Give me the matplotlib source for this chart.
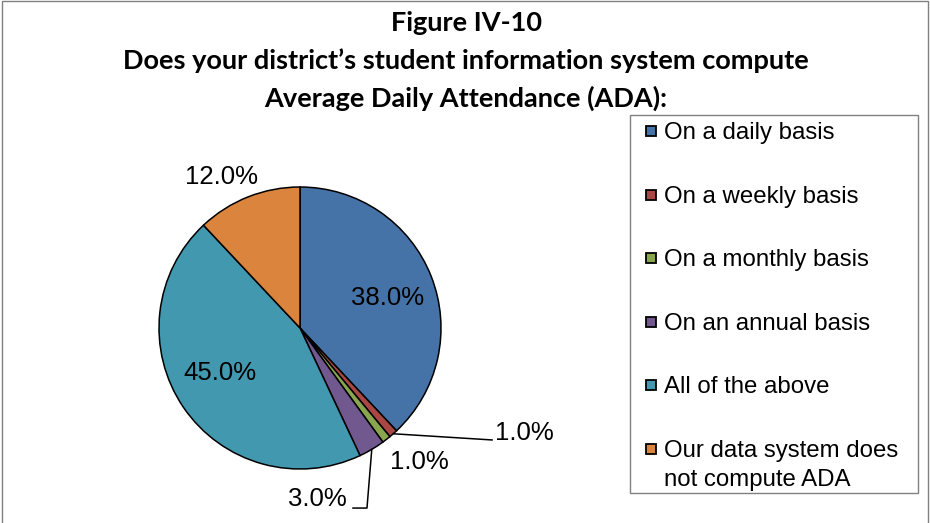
import numpy as np
import matplotlib.pyplot as plt
from matplotlib.patches import Rectangle

W, H = 930, 523

title_lines = ['Figure IV-10',
               'Does your district\u2019s student information system compute',
               'Average Daily Attendance (ADA):']
labels = ['On a daily basis', 'On a weekly basis', 'On a monthly basis',
          'On an annual basis', 'All of the above',
          'Our data system does\nnot compute ADA']
values = [38.0, 1.0, 1.0, 3.0, 45.0, 12.0]
colors = ['#4572A7', '#AA4643', '#89A54E', '#71588F', '#4198AF', '#DB843D']

# label placement (pie radius units), tuned by eye
label_pos = [(0.624, 0.21), (1.383, -0.745), (0.844, -0.95),
             (0.121, -1.213), (-0.567, -0.32), (-0.560, 1.07)]
label_ha = ['center', 'left', 'center', 'center', 'center', 'center']

fig = plt.figure(figsize=(W / 100, H / 100), dpi=100)

# outer frame
fig.patches.append(Rectangle((2 / W, -0.05), (W - 4.5) / W, 1.05 - 1.5 / H,
                             transform=fig.transFigure, fill=False,
                             edgecolor='#808080', lw=1.0))

# title
for i, line in enumerate(title_lines):
    fig.text(466 / W, 1 - (23 + 37.5 * i) / H, line, ha='center', va='center',
             fontsize=19.5, fontweight='bold', family='Lato')

# pie: centre (300, 328) px, radius 141 px
cx, cy, r = 300, 328, 141
ax = fig.add_axes([(cx - r) / W, (H - cy - r) / H, 2 * r / W, 2 * r / H])
wedges, _ = ax.pie(values, colors=colors, startangle=90, counterclock=False,
                   wedgeprops=dict(edgecolor='black', linewidth=1.1))
ax.set_xlim(-1, 1)
ax.set_ylim(-1, 1)
ax.axis('off')

for v, (x, y), ha in zip(values, label_pos, label_ha):
    ax.text(x, y, f'{v:.1f}%', ha=ha, va='center', fontsize=18.5,
            family='Liberation Sans', color='black')

# leader lines for the small slices
def edge_point(w):
    a = np.deg2rad((w.theta1 + w.theta2) / 2)
    return np.cos(a), np.sin(a)

x0, y0 = edge_point(wedges[1])
ax.plot([x0, 1.362], [y0, -0.794], color='black', lw=1.1, clip_on=False)
x0, y0 = edge_point(wedges[3])
ax.plot([x0, 0.475, 0.376], [y0, -1.277, -1.277], color='black', lw=1.1,
        clip_on=False)

# legend box
fig.patches.append(Rectangle((630 / W, 1 - 493 / H), 288 / W, 378 / H,
                             transform=fig.transFigure, fill=False,
                             edgecolor='#808080', lw=1.0))
for i, (lab, c) in enumerate(zip(labels, colors)):
    yc = 131 + 63.6 * i
    s = 10
    fig.patches.append(Rectangle((646 / W, 1 - (yc + s / 2) / H), s / W, s / H,
                                 transform=fig.transFigure, facecolor=c,
                                 edgecolor='black', lw=1.3))
    for k, part in enumerate(lab.split('\n')):
        fig.text(664 / W, 1 - (yc + 2 + 29 * k) / H, part, ha='left',
                 va='center', fontsize=17.3, family='Liberation Sans',
                 color='black')

fig.savefig('out.png', dpi=100)
